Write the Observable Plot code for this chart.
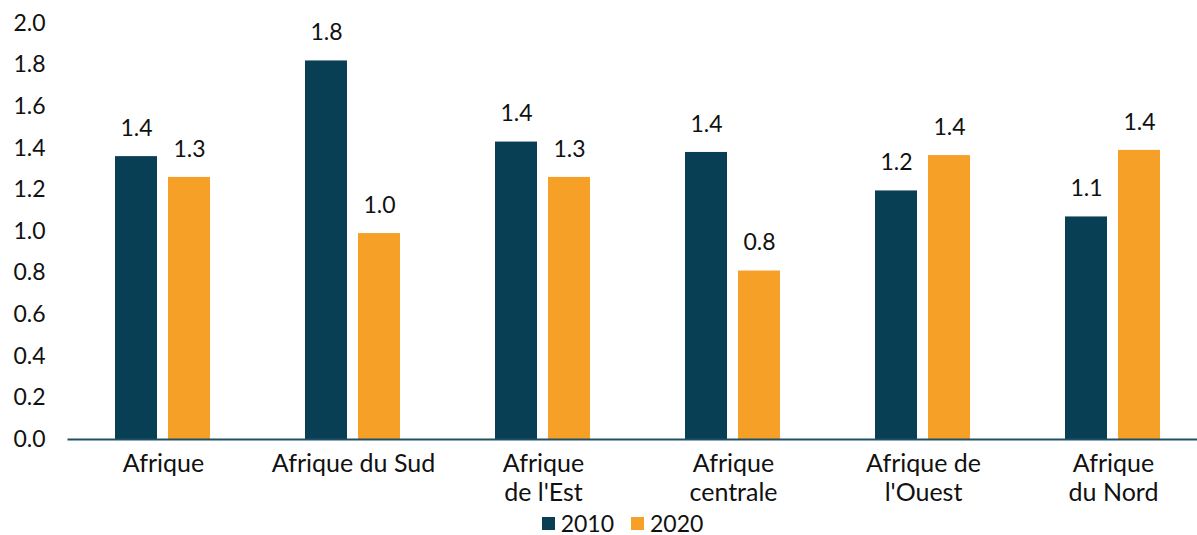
<!DOCTYPE html>
<html>
<head>
<meta charset="utf-8">
<script src="https://cdn.jsdelivr.net/npm/d3@7"></script>
<script src="https://cdn.jsdelivr.net/npm/@observablehq/plot@0.6"></script>
<style>
  html, body { margin: 0; padding: 0; background: #fff; }
  body { width: 1197px; height: 535px; overflow: hidden; font-family: Lato, "Open Sans", sans-serif; }
  #chart svg { display: block; }
  #legend { display: flex; justify-content: center; align-items: center; gap: 17px; padding-left: 48px; padding-top: 4px;
            font-family: Lato, sans-serif; font-size: 23px; color: #111; height: 23px; line-height: 23px; }
  #legend span.item { display: flex; align-items: center; gap: 6px; }
  #legend span.sw { display: inline-block; width: 13px; height: 13px; }
</style>
</head>
<body>
<div id="chart"></div>
<div id="legend"></div>
<script>
const regions = ["Afrique", "Afrique du Sud", "Afrique\nde l'Est", "Afrique\ncentrale", "Afrique de\nl'Ouest", "Afrique\ndu Nord"];
const years = ["2010", "2020"];
const values2010 = [1.36, 1.82, 1.43, 1.38, 1.195, 1.07];
const values2020 = [1.26, 0.99, 1.26, 0.81, 1.365, 1.39];
const yTicks = [0, 0.2, 0.4, 0.6, 0.8, 1.0, 1.2, 1.4, 1.6, 1.8, 2.0];
const colors = ["#093f54", "#f7a028"];

const data = [];
regions.forEach((r, i) => {
  data.push({region: r, year: years[0], value: values2010[i]});
  data.push({region: r, year: years[1], value: values2020[i]});
});

const chart = Plot.plot({
  width: 1197,
  height: 508,
  marginTop: 23,
  marginBottom: 69,
  marginLeft: 68,
  marginRight: 0,
  style: {fontFamily: "Lato, sans-serif", fontSize: "23px", color: "#111", background: "#fff"},
  fx: {domain: regions, range: [68, 1208], padding: 0, axis: null},
  x: {domain: years, paddingInner: 0.2075, paddingOuter: 0.896, axis: null},
  y: {domain: [0, 2], axis: null},
  color: {domain: years, range: colors},
  marks: [
    Plot.axisY({ticks: yTicks, tickSize: 0, tickPadding: 23, tickFormat: d => d.toFixed(1), label: null, fontSize: 23}),
    Plot.axisFx({anchor: "bottom", tickSize: 0, tickPadding: 12, label: null, fontSize: 25, lineHeight: 1.16}),
    Plot.barY(data, {fx: "region", x: "year", y: "value", fill: "year"}),
    Plot.text(data, {fx: "region", x: "year", y: "value", text: d => d.value.toFixed(1), dy: -28, lineAnchor: "middle", fontSize: 23, fill: "#111"}),
    Plot.frame({anchor: "bottom", facet: "super", stroke: "#1f5066", strokeWidth: 2})
  ]
});
document.getElementById("chart").appendChild(chart);

const legend = document.getElementById("legend");
years.forEach((y, i) => {
  const item = document.createElement("span");
  item.className = "item";
  const sw = document.createElement("span");
  sw.className = "sw";
  sw.style.background = colors[i];
  item.appendChild(sw);
  item.appendChild(document.createTextNode(y));
  legend.appendChild(item);
});
</script>
</body>
</html>
